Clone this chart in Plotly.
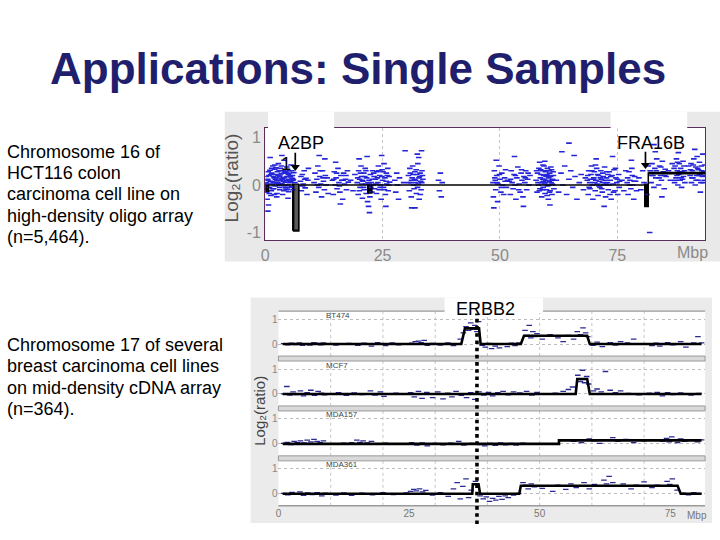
import plotly.graph_objects as go

W, H = 720, 540
FONT = "Liberation Sans"

# ---------------- data ----------------
TITLE = "Applications: Single Samples"
TOP_CAPTION = ["Chromosome 16 of", "HCT116 colon", "carcinoma cell line on",
               "high-density oligo array", "(n=5,464)."]
BOTTOM_CAPTION = ["Chromosome 17 of several", "breast carcinoma cell lines",
                  "on mid-density cDNA array", "(n=364)."]
Y_TITLE = "Log\u2082(ratio)"

TOP_X_TICKS = [0, 25, 50, 75]
TOP_Y_TICKS = [-1, 0, 1]
BOT_X_TICKS = [0, 25, 50, 75]
BOT_X_GRID = [10, 20, 30, 40, 50, 60, 70]
BOT_Y_TICKS = [0, 1]

# chromosome 16, HCT116 (Mbp, log2 ratio) - representative probes
TOP_POINTS = [
    (0.2,0.05),(0.3,-0.15),(0.4,-0.30),(0.5,0.12),(0.6,0.10),(0.7,-0.42),(0.8,0.20),(0.9,-0.05),
    (1.0,0.31),(1.1,0.08),(1.2,-0.22),(1.3,-0.12),(1.4,0.25),(1.5,0.02),(1.6,0.40),(1.7,0.18),
    (1.8,-0.08),(1.9,0.15),(2.0,0.33),(2.1,-0.02),(2.2,0.22),(2.3,0.36),(2.4,0.10),(2.5,-0.18),
    (2.6,0.28),(2.7,0.06),(2.8,0.45),(2.9,0.00),(3.0,0.18),(3.1,-0.10),(3.2,0.35),(3.3,0.03),
    (3.4,0.24),(3.5,0.14),(3.6,0.12),(3.7,-0.20),(3.8,0.30),(3.9,0.08),(4.0,0.52),(4.1,0.16),
    (4.2,0.28),(4.3,-0.06),(4.4,0.27),(4.5,0.10),(4.6,0.38),(4.7,-0.09),(4.8,0.00),(4.9,0.22),
    (5.0,-0.14),(5.1,0.30),(5.2,0.09),(5.3,0.20),(5.4,0.17),(5.5,0.42),(5.6,-0.04),(5.8,0.20),
    (5.9,0.10),(6.0,0.12),(6.1,0.26),(6.3,0.05),(1.05,0.58),(2.45,-0.25),(3.55,0.62),(0.55,-0.55),
    (4.85,-0.28),(2.15,0.12),(3.15,0.21),(4.15,-0.02),(5.15,0.05),(1.45,0.07),
    (7.5,0.08),(7.7,-0.12),(7.9,0.22),(8.1,0.02),(8.3,0.30),(8.5,-0.06),(8.7,0.14),(8.9,-0.20),
    (9.1,0.10),(9.2,0.35),
    (10.4,0.05),(10.6,0.25),(10.8,-0.15),(11.0,0.12),(11.2,0.40),(11.4,-0.05),(11.6,0.18),(11.8,0.02),
    (12.0,-0.25),(12.2,0.30),(12.4,0.08),(12.6,-0.10),(12.8,0.20),(13.0,0.00),(13.2,0.15),(13.4,-0.18),
    (11.5,0.62),(12.7,0.55),
    (14.3,0.10),(14.5,-0.20),(14.7,0.28),(14.9,0.00),(15.1,0.15),(15.3,-0.08),(15.5,0.35),(15.7,0.05),
    (15.9,-0.15),(16.1,0.20),(16.3,0.10),(16.5,-0.30),(16.7,0.25),(16.9,0.02),(17.1,0.12),(17.3,-0.10),
    (17.5,0.30),(17.7,0.06),(15.0,0.48),(16.0,-0.40),(18.2,0.10),(18.7,-0.12),(19.1,0.22),
    (19.6,0.05),(19.8,-0.20),(19.9,0.30),(20.1,0.12),(20.2,-0.05),(20.4,0.40),(20.5,0.18),(20.7,-0.28),
    (20.8,0.08),(21.0,0.25),(21.1,-0.10),(21.3,0.35),(21.4,0.02),(21.6,0.15),(21.8,-0.35),(22.0,-0.45),
    (22.1,0.10),(22.3,-0.25),(22.4,0.22),(22.6,0.05),(22.7,-0.15),(22.9,0.30),(23.0,0.00),(23.2,0.18),
    (23.3,-0.08),(20.0,0.55),(21.7,0.60),(22.2,-0.58),(20.6,0.02),(21.5,-0.18),
    (23.5,0.12),(23.7,-0.18),(23.8,0.28),(24.0,0.05),(24.1,0.40),(24.3,-0.10),(24.4,0.20),(24.6,0.00),
    (24.7,-0.30),(24.9,0.32),(25.0,0.10),(25.2,-0.05),(25.3,0.45),(25.5,0.15),(25.6,-0.20),(25.8,0.25),
    (25.9,0.02),(26.1,0.35),(26.2,-0.12),(26.4,0.18),(26.5,0.06),(24.8,0.62),(25.7,-0.45),
    (27.6,0.10),(27.8,-0.15),(28.0,0.25),(28.2,0.00),(28.4,-0.30),(28.6,0.15),(29.5,0.05),(29.8,0.72),
    (30.5,0.20),(30.7,-0.12),(30.8,0.35),(31.0,0.05),(31.1,-0.25),(31.3,0.15),(31.4,0.40),(31.6,0.00),
    (31.7,-0.08),(31.9,0.28),(32.0,0.10),(32.2,-0.18),(32.3,0.22),(32.5,0.45),(32.6,0.02),(32.8,-0.30),
    (32.9,0.18),(33.1,0.08),(33.2,-0.10),(33.4,0.30),(33.6,0.12),(32.4,0.65),(31.2,-0.48),(32.7,0.58),
    (33.3,0.72),(31.9,-0.48),(32.1,0.05),(33.0,0.25),
    (36.9,0.10),(37.1,-0.12),(37.3,0.25),(37.5,-0.25),(37.7,0.05),
    (48.5,0.05),(48.6,-0.25),(48.8,0.30),(49.0,0.10),(49.1,-0.10),(49.3,0.20),(49.5,-0.35),(49.6,0.02),
    (49.8,0.40),(50.0,0.12),(50.2,-0.15),(50.4,0.25),(50.6,0.00),(50.8,-0.20),(51.0,0.15),(51.2,0.32),
    (51.4,-0.05),(51.6,0.10),(49.2,0.52),(48.7,-0.48),
    (52.0,0.08),(52.2,-0.20),(52.4,0.30),(52.6,0.05),(52.8,-0.08),(53.0,0.22),(53.2,0.00),(53.4,-0.30),
    (53.6,0.15),(53.8,0.38),(54.1,0.02),(54.3,-0.15),(54.5,0.25),(54.7,0.10),(54.9,-0.25),(55.1,0.18),
    (55.3,0.05),(55.5,0.30),(55.7,-0.10),(55.9,0.12),(56.2,0.00),(56.4,0.20),(53.1,0.60),(55.0,-0.45),
    (57.7,0.10),(57.9,-0.15),(58.0,0.25),(58.2,0.00),(58.3,0.35),(58.5,-0.08),(58.6,0.15),(58.8,0.05),
    (58.9,-0.25),(59.0,0.30),(59.1,0.12),(59.2,-0.05),(59.3,0.20),(59.4,0.40),(59.5,0.02),(59.6,-0.18),
    (59.7,0.28),(59.8,0.10),(59.9,-0.10),(60.0,0.22),(60.1,0.35),(60.2,0.00),(60.3,-0.30),(60.4,0.15),
    (60.5,0.08),(60.6,0.25),(60.7,-0.12),(60.8,0.18),(60.9,0.05),(61.0,0.32),(61.1,-0.20),(61.2,0.12),
    (61.3,0.00),(61.4,0.20),(61.5,-0.08),(59.55,0.50),(60.65,-0.42),(58.45,0.48),(59.25,0.08),
    (60.15,-0.02),(60.45,0.30),(59.85,0.18),(58.75,0.22),(61.05,0.10),
    (62.0,0.10),(62.5,-0.15),(63.0,0.25),(63.4,0.00),(63.8,0.40),(64.2,-0.20),(64.7,0.12),(65.1,0.30),
    (65.5,-0.05),(66.0,0.18),(66.4,-0.30),(66.9,0.05),(67.3,0.22),(67.8,-0.10),(68.2,0.15),(63.2,0.70),
    (65.8,0.62),(64.7,0.88),
    (68.6,0.10),(68.8,-0.20),(68.9,0.30),(69.1,0.05),(69.2,-0.08),(69.4,0.22),(69.5,0.40),(69.7,0.00),
    (69.8,-0.30),(70.0,0.15),(70.1,0.28),(70.3,-0.12),(70.4,0.10),(70.6,0.35),(70.7,0.02),(70.9,-0.22),
    (71.0,0.20),(71.2,0.08),(71.3,-0.05),(71.5,0.30),(71.6,0.12),(71.8,-0.15),(71.9,0.25),(72.1,0.00),
    (72.3,0.38),(72.5,-0.25),(72.7,0.15),(72.9,0.05),(73.1,-0.10),(73.3,0.28),(73.5,0.10),(73.7,-0.30),
    (73.9,0.20),(74.1,0.02),(74.3,0.32),(74.5,-0.12),(74.7,0.15),(74.9,0.05),(75.1,-0.20),(75.3,0.22),
    (75.5,0.08),(70.5,0.55),(72.2,-0.45),(74.0,0.60),(69.9,0.12),(71.1,-0.02),(72.0,0.18),(73.0,0.22),
    (76.0,0.10),(76.4,-0.12),(76.8,0.30),
    (77.1,0.05),(77.3,-0.20),(77.5,0.28),(77.7,0.10),(77.9,-0.08),(78.1,0.35),(78.3,0.00),(78.5,-0.30),
    (78.7,0.18),(78.9,0.08),(79.1,-0.12),(78.0,0.52),
    (79.6,0.15),(80.0,-0.10),(80.4,0.30),(80.7,0.05),(81.3,-0.20),(81.6,0.40),(81.9,-1.00),
    (82.0,0.30),(82.2,0.05),(82.4,0.45),(82.6,0.20),(82.8,-0.05),(83.0,0.35),(83.2,0.15),(83.4,0.55),
    (83.6,0.25),(83.8,0.00),(84.0,0.40),(84.2,0.20),(84.4,0.10),(84.6,0.50),(84.8,0.28),(85.0,-0.08),
    (85.2,0.33),(85.4,0.18),(83.1,0.70),(84.5,-0.25),(82.8,0.85),
    (85.9,0.30),(86.3,0.10),(86.7,0.45),
    (87.0,0.25),(87.2,0.05),(87.3,0.40),(87.5,0.15),(87.6,0.55),(87.8,0.30),(87.9,0.00),(88.1,0.22),
    (88.2,0.45),(88.4,0.10),(88.5,0.35),(88.7,-0.05),(88.8,0.28),(89.0,0.50),(89.1,0.18),(89.3,0.30),
    (89.4,0.05),(88.0,0.68),(87.7,0.20),(88.6,0.15),
    (89.8,0.25),(90.2,0.40),
    (90.5,0.20),(90.7,0.45),(90.8,0.05),(91.0,0.30),(91.1,0.15),(91.3,0.55),(91.4,0.25),(91.6,0.00),
    (91.7,0.38),(91.9,0.20),(92.0,0.60),(92.2,0.10),(92.3,0.32),(92.5,0.48),(92.6,0.22),(92.8,0.05),
    (92.9,0.40),(93.1,0.18),(93.2,0.65),(93.4,0.28),(93.5,0.10),(93.6,0.42),(91.5,0.75),(92.7,-0.15),
]
# extra probes inside the densest clusters
TOP_POINTS_DENSE = [
    (0.25,0.18),(0.45,0.02),(0.65,0.28),(0.85,-0.18),(1.15,0.22),(1.35,0.35),(1.55,-0.08),(1.75,0.05),
    (1.95,-0.20),(2.05,0.42),(2.35,0.15),(2.55,0.04),(2.75,0.20),(2.95,0.30),(3.05,-0.05),(3.25,0.10),
    (3.45,0.40),(3.65,0.02),(3.85,0.15),(3.95,-0.12),(4.05,0.25),(4.25,0.06),(4.45,-0.10),(4.65,0.18),
    (4.75,0.32),(4.95,0.12),(5.05,0.25),(5.25,-0.05),(5.45,0.08),(5.65,0.30),(5.75,0.14),(5.95,-0.10),
    (7.6,0.18),(8.0,-0.02),(8.4,0.12),(11.1,0.00),(11.7,0.30),(12.3,0.15),(14.6,0.12),(15.2,0.25),
    (15.8,-0.02),(16.6,0.10),(17.2,0.20),
    (19.7,0.15),(20.05,-0.12),(20.3,0.25),(20.65,0.10),(20.95,-0.05),(21.2,0.18),(21.45,0.30),
    (21.9,0.05),(22.5,-0.05),(22.8,0.12),(23.1,0.25),
    (23.6,0.02),(23.9,0.15),(24.2,0.30),(24.5,-0.05),(24.85,0.18),(25.1,0.28),(25.4,-0.10),(25.75,0.08),
    (26.0,0.20),(26.3,0.00),
    (30.6,0.05),(30.9,0.25),(31.15,0.10),(31.5,0.22),(31.8,0.12),(32.15,0.32),(32.45,-0.05),
    (32.75,0.15),(33.05,-0.20),(33.35,0.05),(33.5,0.20),
    (48.9,0.15),(49.4,0.05),(49.9,0.22),(50.3,-0.05),(51.1,0.08),(52.3,0.12),(53.3,0.20),(54.0,-0.10),
    (54.6,0.32),(55.4,0.15),(56.0,0.25),
    (57.8,0.30),(58.1,0.05),(58.4,-0.12),(58.7,0.32),(59.05,-0.10),(59.35,0.12),(59.65,0.05),
    (59.95,0.30),(60.25,0.20),(60.55,-0.15),(60.85,0.38),(61.15,0.02),(61.35,0.28),(60.05,-0.22),
    (59.15,0.42),
    (68.7,0.20),(69.0,-0.05),(69.3,0.12),(69.6,0.30),(70.2,0.05),(70.8,0.22),(71.4,0.15),(71.7,-0.08),
    (72.4,0.10),(72.8,0.28),(73.2,0.00),(73.6,0.18),(74.2,-0.15),(74.6,0.35),(75.0,0.12),(75.4,-0.05),
    (70.35,0.42),(71.85,0.05),(73.45,-0.20),(72.6,0.02),
    (77.2,0.15),(77.6,0.00),(78.2,0.20),(78.6,0.08),
    (82.3,0.20),(83.3,0.30),(83.9,0.15),(84.3,0.38),(85.1,0.20),
    (87.1,0.35),(87.45,0.10),(87.85,0.48),(88.3,0.28),(88.9,0.12),(89.2,0.40),(90.6,0.32),(90.9,0.15),
    (91.2,0.42),(91.8,0.10),(92.1,0.35),(92.4,0.20),(93.0,0.30),(93.3,0.05),(93.65,0.20),
]

# segmentation of chromosome 16: start, end (Mbp), level
TOP_SEG_START = [0.0, 0.7, 6.05, 7.15, 21.9, 22.7, 80.9, 81.6]
TOP_SEG_END   = [0.7, 6.05, 7.15, 21.9, 22.7, 80.9, 81.6, 93.7]
TOP_SEG_VAL   = [-0.13, 0.0, -0.97, 0.0, -0.17, 0.0, -0.45, 0.25]

# gene markers: position (Mbp), arrow tail and tip levels
GENE_POS  = [6.4, 81.0]
GENE_TAIL = [0.68, 0.70]
GENE_TIP  = [0.32, 0.36]

# chromosome 17, breast carcinoma cell lines
SAMPLES = ["BT474", "MCF7", "MDA157", "MDA361"]

BT474_POINTS = [
    (1.0,0.02),(1.8,-0.03),(2.5,0.04),(3.2,-0.02),(4.0,0.05),(4.6,-0.05),(5.3,0.02),(6.0,-0.04),
    (6.8,0.06),(7.5,0.03),(8.1,-0.03),(8.6,0.05),(9.2,0.00),(11.0,-0.04),(13.5,0.03),(15.2,-0.05),
    (16.4,0.04),(17.8,-0.08),(19.0,0.06),(20.5,-0.06),(21.8,0.05),(23.0,-0.03),(25.5,0.04),(26.2,0.10),
    (26.8,0.12),(27.3,0.06),(27.9,0.15),(28.5,-0.05),(29.5,0.03),(31.0,-0.04),(32.4,0.05),(33.5,-0.06),
    (34.8,0.20),(35.4,0.45),(35.9,0.70),(36.4,0.55),(36.8,0.85),(37.2,0.60),(37.6,0.75),(38.0,0.50),
    (38.3,0.90),(39.0,-0.05),(39.6,-0.12),(40.2,0.03),(40.8,-0.18),(41.5,-0.08),(42.3,-0.15),(43.0,0.02),
    (43.8,-0.10),(44.6,0.04),(45.3,-0.06),(46.0,0.05),(47.2,0.55),(47.6,0.35),(48.0,0.75),(48.3,0.25),
    (48.7,0.50),(49.1,0.30),(49.5,0.42),(50.5,0.20),(52.0,0.38),(53.5,0.25),(54.5,0.10),(55.5,0.35),
    (56.5,0.20),(57.2,0.50),(57.8,0.38),(58.3,0.65),(58.8,0.45),(59.2,0.30),(60.2,-0.05),(61.0,0.08),
    (62.0,-0.10),(63.5,0.06),(64.5,-0.04),(65.5,0.10),(66.8,0.05),(68.0,0.20),(70.0,0.02),(71.5,-0.06),
    (72.3,0.04),(73.0,-0.08),(74.5,0.06),(75.5,-0.03),(77.0,0.10),(78.0,-0.12),(79.5,0.05),(80.3,0.30),
    (81.0,0.05),
]
MCF7_POINTS = [
    (1.0,0.00),(1.6,0.30),(2.2,-0.05),(2.8,0.08),(3.5,-0.03),(4.2,0.12),(4.8,-0.08),(5.5,0.05),
    (6.2,0.15),(6.9,-0.06),(7.6,0.10),(8.2,0.03),(8.8,-0.04),(11.5,0.05),(13.0,-0.06),(14.5,0.04),
    (16.0,-0.03),(17.6,0.12),(18.5,-0.05),(19.5,0.08),(20.2,-0.10),(22.5,0.03),(25.3,0.05),(26.0,-0.12),
    (26.8,0.10),(27.5,-0.18),(28.4,0.06),(29.5,-0.15),(30.5,0.08),(31.5,-0.20),(32.4,0.03),(33.2,-0.12),
    (34.0,0.10),(35.0,-0.06),(36.0,-0.15),(36.8,0.05),(37.6,-0.22),(38.4,0.08),(39.3,-0.05),(40.2,0.06),
    (41.0,-0.08),(42.0,0.05),(43.0,0.10),(44.0,-0.04),(45.0,0.08),(46.2,0.04),(47.5,0.10),(48.5,-0.05),
    (49.5,0.06),(51.0,0.00),(53.0,0.03),(54.5,0.10),(55.5,0.18),(56.3,0.28),(57.3,0.75),(57.8,0.50),
    (58.2,0.95),(58.6,0.45),(59.0,0.70),(59.4,0.40),(60.3,0.12),(61.0,0.20),(61.8,0.08),(62.6,0.90),
    (63.5,0.15),(64.5,0.05),(65.5,0.12),(67.0,0.02),(69.0,-0.04),(71.0,0.03),(72.5,0.06),(73.5,-0.08),
    (74.5,0.05),(75.5,-0.03),(77.0,0.04),(79.0,-0.05),(80.5,0.02),
]
MDA157_POINTS = [
    (1.0,0.02),(1.7,0.06),(2.4,-0.03),(3.0,0.10),(3.6,0.05),(4.2,0.12),(4.9,0.04),(5.5,0.15),
    (6.2,0.08),(6.8,0.18),(7.4,0.10),(8.0,0.05),(8.6,0.12),(10.5,0.00),(12.5,0.03),(14.0,0.05),
    (15.0,0.15),(15.6,0.06),(16.2,0.12),(17.0,0.04),(17.8,0.10),(18.5,0.00),(20.5,0.03),(25.5,0.05),
    (26.5,-0.05),(27.5,0.04),(28.5,-0.08),(30.0,0.02),(31.5,-0.04),(33.0,0.03),(34.5,0.10),(35.5,-0.05),
    (37.0,0.02),(38.5,-0.03),(39.5,-0.08),(40.5,0.02),(41.5,-0.06),(42.5,0.04),(43.5,-0.04),(44.5,0.02),
    (45.5,-0.05),(46.8,0.03),(48.5,-0.02),(52.0,0.00),(55.0,0.15),(56.5,0.10),(58.0,0.05),(59.5,0.20),
    (60.5,0.12),(61.5,0.02),(62.8,0.16),(64.0,0.25),(65.0,0.10),(66.5,0.18),(68.0,0.05),(70.0,0.12),
    (72.0,0.15),(73.5,0.10),(74.3,0.22),(74.8,0.08),(75.3,0.28),(75.8,0.15),(76.4,0.05),(77.0,0.20),
    (77.8,0.10),(79.0,0.14),(80.2,0.08),(81.0,0.16),
]
MDA361_POINTS = [
    (1.0,0.02),(1.8,-0.04),(2.6,0.06),(3.3,-0.02),(4.1,0.08),(4.8,-0.06),(5.6,0.04),(6.5,-0.03),
    (7.4,0.05),(8.3,-0.08),(9.0,0.03),(11.0,-0.05),(12.5,0.04),(14.0,-0.06),(16.0,0.03),(18.0,-0.04),
    (20.0,0.05),(22.0,-0.03),(24.5,0.04),(25.3,0.10),(25.9,0.18),(26.4,0.12),(27.0,0.20),(27.6,0.08),
    (28.2,0.14),(29.5,-0.05),(31.0,0.05),(32.5,-0.10),(33.5,0.20),(34.2,0.45),(34.8,-0.20),(35.3,0.30),
    (35.9,0.60),(36.4,-0.15),(36.9,0.15),(37.7,0.50),(38.6,-0.08),(39.2,-0.20),(39.8,-0.12),(40.4,-0.30),
    (41.0,-0.18),(41.6,-0.25),(42.2,-0.10),(42.8,-0.22),(43.4,-0.08),(44.0,-0.15),(45.0,-0.05),(46.0,0.02),
    (46.8,0.45),(47.3,0.35),(47.8,0.20),(48.4,0.40),(49.0,0.28),(50.5,0.22),(52.5,0.10),(53.5,0.35),
    (55.0,0.18),(56.0,0.40),(57.0,0.25),(58.5,0.45),(59.5,0.20),(60.5,0.38),(61.5,0.30),(62.3,0.55),
    (62.8,0.40),(63.3,0.70),(64.0,0.45),(65.0,0.30),(66.0,0.40),(67.5,0.20),(68.5,0.35),(70.0,0.48),
    (71.5,0.25),(72.5,0.35),(73.8,0.30),(74.4,0.50),(74.9,0.38),(75.4,0.60),(75.9,0.32),(76.3,0.15),
    (77.5,0.03),(78.5,-0.04),(79.5,0.05),(80.5,0.02),
]

# segmentation polylines per sample (breakpoints in Mbp, levels)
BT474_SEG_X = [0.8, 35.0, 35.7, 38.4, 38.7, 46.4, 47.0, 59.1, 59.6, 81.0]
BT474_SEG_Y = [0, 0, 0.63, 0.63, 0, 0, 0.33, 0.33, 0, 0]
MCF7_SEG_X = [0.8, 56.9, 57.2, 59.1, 59.6, 81.0]
MCF7_SEG_Y = [0, 0, 0.60, 0.60, 0, 0]
MDA157_SEG_X = [0.8, 53.7, 53.7, 81.0]
MDA157_SEG_Y = [0, 0, 0.14, 0.14]
MDA361_SEG_X = [0.8, 37.1, 37.2, 38.3, 38.6, 46.1, 46.4, 76.4, 77.0, 81.0]
MDA361_SEG_Y = [0, 0, 0.38, 0.38, 0, 0, 0.32, 0.32, 0, 0]

ERBB2_POS = 38.0

# ---------------- geometry (pixels on the 720x540 slide) ----------------
def fx(p):
    return p / W

def fy(p):
    return 1 - p / H

TOP_L, TOP_R, TOP_T, TOP_B = 262.7, 705.0, 128.0, 240.7
TOP_X_RANGE = [0, 93.7]
TOP_Y_RANGE = [-1.162, 1.204]

BOT_L, BOT_R = 276.0, 705.0
BOT_X_RANGE = [0, 81.67]
TRACK_TOPS = [311.7, 361.7, 411.7, 461.7]
TRACK_H = 45.0
TRACK_Y_RANGE = [-0.48, 1.32]

TICK_GRAY = "#8a8a8a"

fig = go.Figure()

# ---------- top chart ----------
all_top = TOP_POINTS + TOP_POINTS_DENSE
fig.add_trace(go.Scatter(
    x=[p[0] for p in all_top], y=[p[1] for p in all_top],
    mode="markers", xaxis="x", yaxis="y",
    marker=dict(symbol="line-ew", size=4, line=dict(width=1.6, color="#2424d8")),
    hoverinfo="skip", showlegend=False))

seg_x, seg_y = [], []
for s, e, v in zip(TOP_SEG_START, TOP_SEG_END, TOP_SEG_VAL):
    seg_x += [s, e]
    seg_y += [v, v]
fig.add_trace(go.Scatter(x=seg_x, y=seg_y, mode="lines", xaxis="x", yaxis="y",
                         line=dict(color="black", width=1.5), hoverinfo="skip", showlegend=False))

gain_x, gain_y = [], []
for s, e, v in zip(TOP_SEG_START, TOP_SEG_END, TOP_SEG_VAL):
    if v > 0:
        gain_x += [s, e, None]
        gain_y += [v, v, None]
fig.add_trace(go.Scatter(x=gain_x, y=gain_y, mode="lines", xaxis="x", yaxis="y",
                         line=dict(color="black", width=2.6), hoverinfo="skip", showlegend=False))

loss = [(s, e, v) for s, e, v in zip(TOP_SEG_START, TOP_SEG_END, TOP_SEG_VAL) if v < 0]
fig.add_trace(go.Bar(
    x=[(s + e) / 2 for s, e, v in loss], y=[v for s, e, v in loss],
    width=[e - s for s, e, v in loss], base=0, xaxis="x", yaxis="y",
    marker=dict(color=["#5a5a5a" if v < -0.5 else "black" for s, e, v in loss],
                line=dict(color="black", width=1.2)),
    hoverinfo="skip", showlegend=False))

for pos, tail, tip in zip(GENE_POS, GENE_TAIL, GENE_TIP):
    fig.add_trace(go.Scatter(x=[pos, pos], y=[tail, tip + 0.05], mode="lines",
                             xaxis="x", yaxis="y", line=dict(color="black", width=1.7),
                             hoverinfo="skip", showlegend=False))
    fig.add_trace(go.Scatter(x=[pos], y=[tip + 0.06], mode="markers", xaxis="x", yaxis="y",
                             marker=dict(symbol="triangle-down", size=8, color="black"),
                             hoverinfo="skip", showlegend=False))

# ---------- bottom chart ----------
bottom_points = [BT474_POINTS, MCF7_POINTS, MDA157_POINTS, MDA361_POINTS]
bottom_segs = [(BT474_SEG_X, BT474_SEG_Y), (MCF7_SEG_X, MCF7_SEG_Y),
               (MDA157_SEG_X, MDA157_SEG_Y), (MDA361_SEG_X, MDA361_SEG_Y)]
for i, (pts, (sx, sy)) in enumerate(zip(bottom_points, bottom_segs)):
    ya = "y%d" % (i + 2)
    fig.add_trace(go.Scatter(
        x=[p[0] for p in pts], y=[p[1] for p in pts], mode="markers", xaxis="x2", yaxis=ya,
        marker=dict(symbol="line-ew", size=4, line=dict(width=1.3, color="#2a2a90")),
        hoverinfo="skip", showlegend=False))
    fig.add_trace(go.Scatter(x=sx, y=sy, mode="lines", xaxis="x2", yaxis=ya,
                             line=dict(color="black", width=2.6), hoverinfo="skip",
                             showlegend=False))

# ---------- shapes ----------
shapes = []
shapes.append(dict(type="rect", xref="paper", yref="paper", x0=fx(222), x1=fx(720),
                   y0=fy(262), y1=fy(112), fillcolor="#e9e9e9", line=dict(width=0), layer="below"))
shapes.append(dict(type="rect", xref="paper", yref="paper", x0=fx(248), x1=fx(712),
                   y0=fy(524), y1=fy(298), fillcolor="#ebebeb", line=dict(width=0), layer="below"))
shapes.append(dict(type="rect", xref="x domain", yref="y domain", x0=0, x1=1, y0=0, y1=1,
                   fillcolor="white", line=dict(width=0), layer="below"))
shapes.append(dict(type="rect", xref="paper", yref="paper", x0=fx(BOT_L), x1=fx(BOT_R),
                   y0=fy(TRACK_TOPS[-1] + TRACK_H), y1=fy(TRACK_TOPS[0]),
                   fillcolor="white", line=dict(width=0), layer="below"))
for g in BOT_X_GRID:
    for t in TRACK_TOPS:
        shapes.append(dict(type="line", xref="x2", yref="paper", x0=g, x1=g,
                           y0=fy(t + TRACK_H), y1=fy(t),
                           line=dict(color="#c4c4c4", width=1, dash="dot"), layer="below"))
shapes.append(dict(type="line", xref="paper", yref="paper", x0=fx(BOT_L), x1=fx(BOT_R),
                   y0=fy(TRACK_TOPS[0]), y1=fy(TRACK_TOPS[0]),
                   line=dict(color="#9a9a9a", width=1.3), layer="below"))
for t in TRACK_TOPS[1:]:
    shapes.append(dict(type="rect", xref="paper", yref="paper", x0=fx(BOT_L), x1=fx(BOT_R),
                       y0=fy(t), y1=fy(t - 5), fillcolor="#d9d9d9",
                       line=dict(color="#9a9a9a", width=1), layer="below"))
shapes.append(dict(type="line", xref="paper", yref="paper", x0=fx(BOT_L), x1=fx(BOT_R),
                   y0=fy(TRACK_TOPS[-1] + TRACK_H), y1=fy(TRACK_TOPS[-1] + TRACK_H),
                   line=dict(color="#9a9a9a", width=1.3), layer="below"))
shapes.append(dict(type="rect", xref="paper", yref="paper", x0=fx(265.5), x1=fx(332),
                   y0=fy(128.8), y1=fy(112), fillcolor="white", line=dict(width=0), layer="above"))
shapes.append(dict(type="rect", xref="paper", yref="paper", x0=fx(610), x1=fx(687),
                   y0=fy(128.8), y1=fy(112), fillcolor="white", line=dict(width=0), layer="above"))
shapes.append(dict(type="rect", xref="paper", yref="paper", x0=fx(443), x1=fx(542),
                   y0=fy(313.5), y1=fy(298), fillcolor="white", line=dict(width=0), layer="above"))
shapes.append(dict(type="line", xref="x2", yref="paper", x0=ERBB2_POS, x1=ERBB2_POS,
                   y0=fy(525), y1=fy(314),
                   line=dict(color="black", width=3.6, dash="dot"), layer="above"))

# ---------- annotations ----------
ann = []
ann.append(dict(text="<b>" + TITLE + "</b>", x=fx(355.5), y=fy(69), xref="paper", yref="paper",
                xanchor="center", yanchor="middle", showarrow=False,
                font=dict(family=FONT, size=44, color="#1f1f6e")))
for i, line in enumerate(TOP_CAPTION):
    ann.append(dict(text=line, x=fx(1.5), y=fy(152 + i * 21.3), xref="paper", yref="paper",
                    xanchor="left", yanchor="middle", showarrow=False,
                    font=dict(family=FONT, size=18, color="black")))
for i, line in enumerate(BOTTOM_CAPTION):
    ann.append(dict(text=line, x=fx(1.5), y=fy(345.5 + i * 21.5), xref="paper", yref="paper",
                    xanchor="left", yanchor="middle", showarrow=False,
                    font=dict(family=FONT, size=18, color="black")))
ann.append(dict(text=Y_TITLE, x=fx(229), y=fy(178), xref="paper", yref="paper",
                xanchor="center", yanchor="middle", textangle=-90, showarrow=False,
                font=dict(family=FONT, size=19, color="#555555")))
ann.append(dict(text=Y_TITLE, x=fx(257), y=fy(412), xref="paper", yref="paper",
                xanchor="center", yanchor="middle", textangle=-90, showarrow=False,
                font=dict(family=FONT, size=15, color="#444444")))
ann.append(dict(text="Mbp", x=fx(692), y=fy(253), xref="paper", yref="paper",
                xanchor="center", yanchor="middle", showarrow=False,
                font=dict(family=FONT, size=16, color=TICK_GRAY)))
ann.append(dict(text="Mbp", x=fx(697), y=fy(516), xref="paper", yref="paper",
                xanchor="center", yanchor="middle", showarrow=False,
                font=dict(family=FONT, size=10, color="#777777")))
ann.append(dict(text="A2BP", x=fx(274), y=fy(143), xref="paper", yref="paper",
                xanchor="left", yanchor="middle", showarrow=False,
                font=dict(family=FONT, size=18, color="black")))
ann.append(dict(text="1", x=fx(277), y=fy(164), xref="paper", yref="paper",
                xanchor="left", yanchor="middle", showarrow=False,
                font=dict(family=FONT, size=18, color="black")))
ann.append(dict(text="FRA16B", x=fx(651), y=fy(143), xref="paper", yref="paper",
                xanchor="center", yanchor="middle", showarrow=False,
                font=dict(family=FONT, size=18, color="black")))
ann.append(dict(text="ERBB2", x=fx(484), y=fy(310), xref="paper", yref="paper",
                xanchor="center", yanchor="middle", showarrow=False,
                font=dict(family=FONT, size=18, color="black")))
for i, name in enumerate(SAMPLES):
    ann.append(dict(text=name, x=fx(322), y=fy(TRACK_TOPS[i] + 4), xref="paper", yref="paper",
                    xanchor="left", yanchor="middle", showarrow=False,
                    font=dict(family=FONT, size=8, color="#444444")))

# ---------- axes ----------
layout = dict(
    width=W, height=H, margin=dict(l=0, r=0, t=0, b=0),
    paper_bgcolor="white", plot_bgcolor="rgba(0,0,0,0)",
    font=dict(family=FONT),
    shapes=shapes, annotations=ann, bargap=0,
    xaxis=dict(domain=[fx(TOP_L), fx(TOP_R)], range=TOP_X_RANGE, anchor="y",
               tickmode="array", tickvals=TOP_X_TICKS, ticks="",
               tickfont=dict(size=16, color=TICK_GRAY, family=FONT),
               showline=True, mirror=True, linecolor="#5c2d5c", linewidth=1.2,
               showgrid=True, gridcolor="#c4c4c4", griddash="dot", gridwidth=1,
               zeroline=False, fixedrange=True),
    yaxis=dict(domain=[fy(TOP_B), fy(TOP_T)], range=TOP_Y_RANGE, anchor="x",
               tickmode="array", tickvals=TOP_Y_TICKS, ticktext=[str(v) for v in TOP_Y_TICKS],
               ticks="", tickfont=dict(size=16, color=TICK_GRAY, family=FONT),
               showline=True, mirror=True, linecolor="#5c2d5c", linewidth=1.2,
               showgrid=False, zeroline=False, fixedrange=True),
    xaxis2=dict(domain=[fx(BOT_L), fx(BOT_R)], range=BOT_X_RANGE, anchor="y5",
                tickmode="array", tickvals=BOT_X_TICKS, ticks="",
                tickfont=dict(size=10, color="#777777", family=FONT),
                showline=False, showgrid=False, zeroline=False, fixedrange=True),
)
for i, t in enumerate(TRACK_TOPS):
    layout["yaxis%d" % (i + 2)] = dict(
        domain=[fy(t + TRACK_H), fy(t)], range=TRACK_Y_RANGE, anchor="x2",
        tickmode="array", tickvals=BOT_Y_TICKS, ticks="",
        tickfont=dict(size=10, color="#888888", family=FONT),
        showline=False, showgrid=True, gridcolor="#bcbcbc", griddash="dot", gridwidth=1,
        zeroline=False, fixedrange=True)

fig.update_layout(**layout)
fig.write_html("out.html", config={"displayModeBar": False},
               post_script="document.body.style.margin='0';")
